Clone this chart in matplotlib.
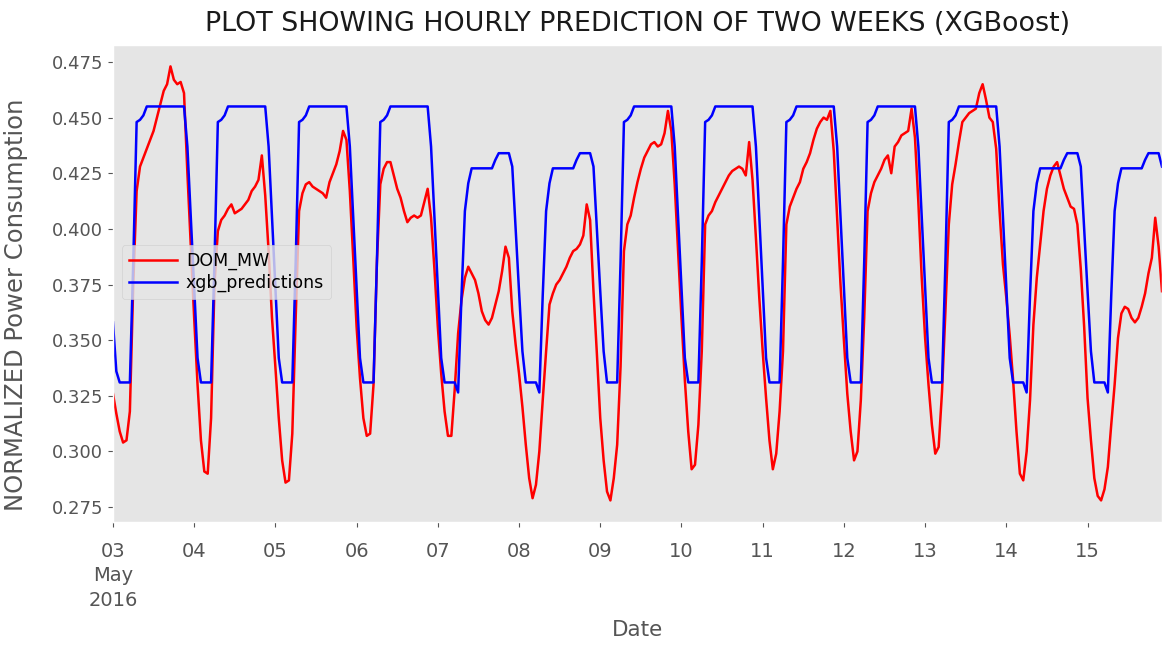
import matplotlib
matplotlib.use("Agg")
import matplotlib.pyplot as plt
import numpy as np
import pandas as pd

# Normalized DOM_MW load, hourly from 2016-05-03 00:00 (one list per day)
dom_0503 = [0.326, 0.317, 0.309, 0.304, 0.305, 0.318, 0.375, 0.417, 0.428, 0.432, 0.436, 0.440,
            0.444, 0.450, 0.456, 0.462, 0.465, 0.473, 0.467, 0.465, 0.466, 0.461, 0.425, 0.392]
dom_0504 = [0.360, 0.330, 0.305, 0.291, 0.290, 0.315, 0.375, 0.399, 0.404, 0.406, 0.409, 0.411,
            0.407, 0.408, 0.409, 0.411, 0.413, 0.417, 0.419, 0.422, 0.433, 0.415, 0.390, 0.360]
dom_0505 = [0.338, 0.315, 0.296, 0.286, 0.287, 0.308, 0.360, 0.408, 0.416, 0.420, 0.421, 0.419,
            0.418, 0.417, 0.416, 0.414, 0.421, 0.425, 0.429, 0.435, 0.444, 0.440, 0.417, 0.387]
dom_0506 = [0.356, 0.333, 0.315, 0.307, 0.308, 0.330, 0.385, 0.420, 0.427, 0.430, 0.430, 0.424,
            0.418, 0.414, 0.408, 0.403, 0.405, 0.406, 0.405, 0.406, 0.412, 0.418, 0.405, 0.382]
dom_0507 = [0.356, 0.335, 0.318, 0.307, 0.307, 0.328, 0.353, 0.368, 0.378, 0.383, 0.380, 0.377,
            0.371, 0.363, 0.359, 0.357, 0.360, 0.366, 0.372, 0.381, 0.392, 0.387, 0.363, 0.348]
dom_0508 = [0.335, 0.320, 0.303, 0.288, 0.279, 0.285, 0.300, 0.323, 0.345, 0.366, 0.371, 0.375,
            0.377, 0.380, 0.383, 0.387, 0.390, 0.391, 0.393, 0.397, 0.411, 0.404, 0.372, 0.344]
dom_0509 = [0.315, 0.296, 0.282, 0.278, 0.288, 0.303, 0.338, 0.390, 0.402, 0.406, 0.414, 0.421,
            0.427, 0.432, 0.435, 0.438, 0.439, 0.437, 0.438, 0.443, 0.453, 0.444, 0.420, 0.390]
dom_0510 = [0.360, 0.332, 0.309, 0.292, 0.294, 0.312, 0.345, 0.402, 0.406, 0.408, 0.412, 0.415,
            0.418, 0.421, 0.424, 0.426, 0.427, 0.428, 0.427, 0.424, 0.439, 0.422, 0.396, 0.369]
dom_0511 = [0.345, 0.324, 0.305, 0.292, 0.299, 0.318, 0.345, 0.402, 0.410, 0.414, 0.418, 0.421,
            0.427, 0.430, 0.434, 0.440, 0.445, 0.448, 0.450, 0.449, 0.453, 0.435, 0.405, 0.375]
dom_0512 = [0.350, 0.326, 0.309, 0.296, 0.300, 0.323, 0.360, 0.408, 0.416, 0.421, 0.424, 0.427,
            0.431, 0.433, 0.425, 0.437, 0.439, 0.442, 0.443, 0.444, 0.454, 0.441, 0.412, 0.378]
dom_0513 = [0.351, 0.330, 0.312, 0.299, 0.302, 0.327, 0.363, 0.402, 0.420, 0.429, 0.439, 0.448,
            0.450, 0.452, 0.453, 0.454, 0.461, 0.465, 0.458, 0.450, 0.448, 0.436, 0.408, 0.384]
dom_0514 = [0.369, 0.352, 0.332, 0.309, 0.290, 0.287, 0.300, 0.323, 0.357, 0.378, 0.393, 0.408,
            0.418, 0.424, 0.428, 0.430, 0.424, 0.418, 0.414, 0.410, 0.409, 0.402, 0.382, 0.356]
dom_0515 = [0.324, 0.305, 0.288, 0.280, 0.278, 0.283, 0.293, 0.312, 0.330, 0.351, 0.362, 0.365,
            0.364, 0.360, 0.358, 0.360, 0.365, 0.371, 0.380, 0.387, 0.405, 0.392, 0.372]

# XGBoost predictions for the same hours
xgb_0503 = [0.358, 0.336, 0.331, 0.331, 0.331, 0.331, 0.385, 0.448, 0.449, 0.451, 0.455, 0.455,
            0.455, 0.455, 0.455, 0.455, 0.455, 0.455, 0.455, 0.455, 0.455, 0.455, 0.437, 0.405]
xgb_0504 = [0.372, 0.342, 0.331, 0.331, 0.331, 0.331, 0.385, 0.448, 0.449, 0.451, 0.455, 0.455,
            0.455, 0.455, 0.455, 0.455, 0.455, 0.455, 0.455, 0.455, 0.455, 0.455, 0.437, 0.405]
xgb_0505 = [0.372, 0.342, 0.331, 0.331, 0.331, 0.331, 0.385, 0.448, 0.449, 0.451, 0.455, 0.455,
            0.455, 0.455, 0.455, 0.455, 0.455, 0.455, 0.455, 0.455, 0.455, 0.455, 0.437, 0.405]
xgb_0506 = [0.372, 0.342, 0.331, 0.331, 0.331, 0.331, 0.385, 0.448, 0.449, 0.451, 0.455, 0.455,
            0.455, 0.455, 0.455, 0.455, 0.455, 0.455, 0.455, 0.455, 0.455, 0.455, 0.437, 0.405]
xgb_0507 = [0.372, 0.342, 0.331, 0.331, 0.331, 0.331, 0.3265, 0.370, 0.408, 0.4205, 0.4272, 0.4272,
            0.4272, 0.4272, 0.4272, 0.4272, 0.4272, 0.431, 0.434, 0.434, 0.434, 0.434, 0.428, 0.400]
xgb_0508 = [0.372, 0.345, 0.331, 0.331, 0.331, 0.331, 0.3265, 0.370, 0.408, 0.4205, 0.4272, 0.4272,
            0.4272, 0.4272, 0.4272, 0.4272, 0.4272, 0.431, 0.434, 0.434, 0.434, 0.434, 0.428, 0.400]
xgb_0509 = [0.372, 0.345, 0.331, 0.331, 0.331, 0.331, 0.385, 0.448, 0.449, 0.451, 0.455, 0.455,
            0.455, 0.455, 0.455, 0.455, 0.455, 0.455, 0.455, 0.455, 0.455, 0.455, 0.437, 0.405]
xgb_0510 = [0.372, 0.342, 0.331, 0.331, 0.331, 0.331, 0.385, 0.448, 0.449, 0.451, 0.455, 0.455,
            0.455, 0.455, 0.455, 0.455, 0.455, 0.455, 0.455, 0.455, 0.455, 0.455, 0.437, 0.405]
xgb_0511 = [0.372, 0.342, 0.331, 0.331, 0.331, 0.331, 0.385, 0.448, 0.449, 0.451, 0.455, 0.455,
            0.455, 0.455, 0.455, 0.455, 0.455, 0.455, 0.455, 0.455, 0.455, 0.455, 0.437, 0.405]
xgb_0512 = [0.372, 0.342, 0.331, 0.331, 0.331, 0.331, 0.385, 0.448, 0.449, 0.451, 0.455, 0.455,
            0.455, 0.455, 0.455, 0.455, 0.455, 0.455, 0.455, 0.455, 0.455, 0.455, 0.437, 0.405]
xgb_0513 = [0.372, 0.342, 0.331, 0.331, 0.331, 0.331, 0.385, 0.448, 0.449, 0.451, 0.455, 0.455,
            0.455, 0.455, 0.455, 0.455, 0.455, 0.455, 0.455, 0.455, 0.455, 0.455, 0.437, 0.405]
xgb_0514 = [0.372, 0.342, 0.331, 0.331, 0.331, 0.331, 0.3265, 0.370, 0.408, 0.4205, 0.4272, 0.4272,
            0.4272, 0.4272, 0.4272, 0.4272, 0.4272, 0.431, 0.434, 0.434, 0.434, 0.434, 0.428, 0.400]
xgb_0515 = [0.372, 0.345, 0.331, 0.331, 0.331, 0.331, 0.3265, 0.370, 0.408, 0.4205, 0.4272, 0.4272,
            0.4272, 0.4272, 0.4272, 0.4272, 0.4272, 0.431, 0.434, 0.434, 0.434, 0.434, 0.428]

day_labels = ["03\nMay\n2016", "04", "05", "06", "07", "08", "09",
              "10", "11", "12", "13", "14", "15"]
y_ticks = [0.275, 0.300, 0.325, 0.350, 0.375, 0.400, 0.425, 0.450, 0.475]

dom_mw = np.concatenate([dom_0503, dom_0504, dom_0505, dom_0506, dom_0507, dom_0508, dom_0509,
                         dom_0510, dom_0511, dom_0512, dom_0513, dom_0514, dom_0515])
xgb_predictions = np.concatenate([xgb_0503, xgb_0504, xgb_0505, xgb_0506, xgb_0507, xgb_0508,
                                  xgb_0509, xgb_0510, xgb_0511, xgb_0512, xgb_0513, xgb_0514,
                                  xgb_0515])
hours = pd.date_range("2016-05-03 00:00", periods=len(dom_mw), freq="h")
days = pd.date_range("2016-05-03", periods=len(day_labels), freq="D")

plt.style.use("ggplot")
fig, ax = plt.subplots(figsize=(11.62, 6.47), dpi=100)
fig.subplots_adjust(left=0.0972, right=1.0, top=0.9304, bottom=0.1932)

ax.plot(hours, dom_mw, color="red", lw=1.8, label="DOM_MW")
ax.plot(hours, xgb_predictions, color="blue", lw=1.8, label="xgb_predictions")

ax.set_xlim(hours[0], hours[-1])
ax.set_ylim(0.2683, 0.4826)
ax.grid(False)

ax.set_xticks(days)
ax.set_xticklabels(day_labels, fontsize=14)
for lbl in ax.get_xticklabels():
    lbl.set_linespacing(1.35)
ax.set_yticks(y_ticks)
ax.set_yticklabels([f"{v:.3f}" for v in y_ticks], fontsize=13)
ax.tick_params(axis="x", pad=11)

ax.set_title("PLOT SHOWING HOURLY PREDICTION OF TWO WEEKS (XGBoost)",
             fontsize=19.4, color="#1a1a1a", pad=10)
ax.set_xlabel("Date", fontsize=15.5)
ax.xaxis.set_label_coords(0.5, -0.205)
ax.set_ylabel("NORMALIZED Power Consumption", fontsize=17.5)
ax.yaxis.set_label_coords(-0.081, 0.455)

ax.legend(loc="center left", bbox_to_anchor=(0.0, 0.524), fontsize=12.5,
          handlelength=2.8, handletextpad=0.5, labelspacing=0.2)

fig.savefig("out.png", dpi=100)
